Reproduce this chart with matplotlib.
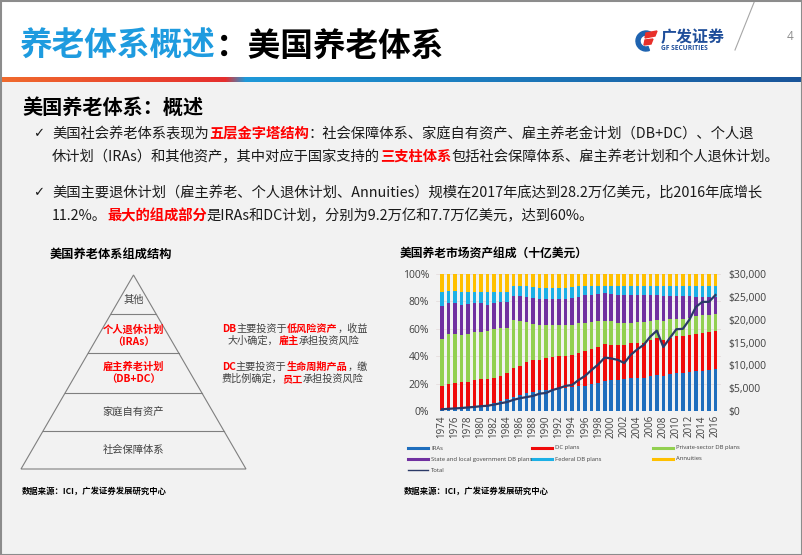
import numpy as np
import matplotlib
matplotlib.use('Agg')
import matplotlib.pyplot as plt
from matplotlib.patches import Rectangle, Polygon, Wedge
from matplotlib.lines import Line2D

CJK = ['Noto Sans CJK SC', 'DejaVu Sans']
LAT = ['Open Sans', 'DejaVu Sans']

# ---- chart data (share of total, %) ----
years = list(range(1974, 2017))
ira = [0.5, 1, 1.5, 2, 2.5, 3, 3.5, 4, 5.5, 7, 8.5, 10.5, 12, 13, 14, 15, 15.5, 16, 16.5, 17, 17.5, 18,
       18.5, 19.5, 20.5, 22, 22.5, 22.5, 23, 24, 24, 24, 25.5, 26.5, 25.5, 27, 27.5, 28, 28.5, 29.5, 29.5, 30, 30.5]
dc = [17.5, 19, 19, 19, 19, 19.5, 19.5, 19, 18.5, 18.5, 19.5, 21, 21, 22.5, 23, 22.5, 23, 23.5, 23.5, 23.5, 23.5, 24.5,
      25.5, 26, 26.5, 27, 26, 25.5, 25.5, 25.5, 25.5, 26, 26.5, 26.5, 26.5, 26.5, 27, 26.5, 27, 27, 27.5, 27.5, 28]
private_db = [34.5, 36, 35.5, 34.5, 35, 35, 35, 35.5, 35.5, 35, 32.5, 35, 32.5, 29.5, 26.5, 25.5, 24, 23, 22.5, 22, 22,
              21.5, 20.5, 19.5, 18.5, 17, 17, 16.5, 15.5, 15, 15.5, 15, 14, 13.5, 13.5, 13.5, 13, 13, 12.5, 13, 13, 12.5, 12]
state_local_db = [24, 22.5, 23, 22, 21.5, 21, 21, 19, 19.5, 19, 19, 17.5, 18.5, 18.5, 19, 19, 19, 19.5, 19.5, 19.5,
                  19.5, 19.5, 20, 20, 20, 20, 20, 20.5, 20.5, 20, 19.5, 20, 19, 18, 18.5, 17, 16.5, 16.5, 16, 13.5, 13, 13, 12.5]
federal_db = [10.5, 9, 8.5, 9, 9, 8.5, 8, 9, 8, 7.5, 7.5, 7.5, 7, 7.5, 8, 8, 8, 8, 8, 8, 8, 7.5, 7, 6.5, 6, 5.5, 6,
              6.5, 7, 7, 7, 6.5, 6.5, 7, 7.5, 7.5, 7.5, 7.5, 7.5, 8.5, 8.5, 8.5, 8.5]
annuities = [13, 12.5, 12.5, 13.5, 13, 13, 13, 13.5, 13, 13, 13, 8.5, 9, 9, 9.5, 10, 10.5, 10, 10, 10, 9.5, 9, 8.5,
             8.5, 8.5, 8.5, 8.5, 8.5, 8.5, 8.5, 8.5, 8.5, 8.5, 8.5, 8.5, 8.5, 8.5, 8.5, 8.5, 8.5, 8.5, 8.5, 8.5]
# total assets, billions of dollars
total = [370, 480, 560, 650, 780, 900, 1050, 1150, 1400, 1700, 1950, 2450, 2800, 3050, 3300, 3800, 3950, 4600,
         5000, 5500, 5700, 6800, 7700, 9000, 10200, 11700, 11500, 11200, 10500, 12300, 13500, 14500, 16300, 17600,
         14000, 16000, 17900, 18000, 20000, 22800, 23900, 23900, 25400]

series_names = ['IRAs', 'DC plans', 'Private-sector DB plans', 'State and local government DB plans',
                'Federal DB plans', 'Annuities']
series_colors = ['#1F6EBD', '#F00A0A', '#92D050', '#7030A0', '#1CB0E6', '#FFC000']
total_color = '#2B3A67'

pct_ticks = [0, 20, 40, 60, 80, 100]
usd_ticks = [0, 5000, 10000, 15000, 20000, 25000, 30000]

RED = '#FF0000'
TXT = '#1A1A1A'
GRAY = '#404040'

fig = plt.figure(figsize=(8.02, 5.55), dpi=100)
fig.patch.set_facecolor('#F2F2F2')

bg = fig.add_axes([0, 0, 1, 1])
bg.set_xlim(0, 802)
bg.set_ylim(555, 0)
bg.axis('off')
renderer = fig.canvas.get_renderer()


def rich(x, y, parts, size, family=CJK):
    # draw a line made of differently styled pieces, one after another
    for s, color, bold, italic in parts:
        t = bg.text(x, y, s, fontsize=size, color=color, family=family,
                    fontweight='bold' if bold else 'normal',
                    fontstyle='italic' if italic else 'normal',
                    va='center', ha='left')
        x += t.get_window_extent(renderer).width
    return x


# header area
bg.add_patch(Rectangle((0, 0), 802, 77, color='white', lw=0))
grad = np.zeros((1, 802, 3))
for i in range(802):
    if i < 225:
        a = i / 225
        c0, c1 = np.array([0.94, 0.42, 0.18]), np.array([0.90, 0.18, 0.18])
    elif i < 245:
        a = (i - 225) / 20
        c0, c1 = np.array([0.90, 0.18, 0.18]), np.array([0.12, 0.60, 0.85])
    else:
        a = (i - 245) / 557
        c0, c1 = np.array([0.12, 0.60, 0.85]), np.array([0.10, 0.33, 0.60])
    grad[0, i] = c0 + (c1 - c0) * a
bg.imshow(grad, extent=[0, 802, 82, 77], aspect='auto', zorder=1)
bg.set_xlim(0, 802)
bg.set_ylim(555, 0)
bg.add_patch(Rectangle((0.5, 0.5), 801, 554, fill=False, ec='#8C8C8C', lw=1.5, zorder=5))
bg.plot([755, 735], [0, 50], color='#A6A6A6', lw=0.8)

rich(20, 46, [('养老体系概述', '#1E9BDF', True, False), ('：美国养老体系', '#000000', True, False)], 23.5)

# logo
bg.add_patch(Wedge((646, 41), 10, 70, 300, width=4, color='#1E63B0', zorder=3))
bg.add_patch(Polygon([[646, 33], [657, 31], [655, 36], [645, 38]], color='#E8302A', zorder=3))
bg.add_patch(Polygon([[645, 40], [653, 39], [651, 44], [644, 45]], color='#E8302A', zorder=3))
bg.text(661, 37, '广发证券', fontsize=11.5, color='#1F4E9A', family=CJK, fontweight='bold', va='center')
bg.text(661, 49, 'GF SECURITIES', fontsize=4.8, color='#1F4E9A', family=LAT, fontweight='bold', va='center')
bg.text(790, 37, '4', fontsize=8.5, color='#8C8C8C', family=LAT, va='center', ha='center')

# section heading and bullets
bg.text(22, 107, '美国养老体系：概述', fontsize=14.5, color='#000000', family=CJK, fontweight='bold', va='center')
BS = 10.3
for yy in (134, 193):
    bg.text(33, yy, '✓', fontsize=9.5, color=TXT, family=['DejaVu Sans'], va='center')
rich(52, 134, [('美国社会养老体系表现为', TXT, False, False), ('五层金字塔结构', RED, True, False),
               ('：社会保障体系、家庭自有资产、雇主养老金计划（DB+DC）、个人退', TXT, False, False)], BS)
rich(52, 157, [('休计划（IRAs）和其他资产，其中对应于国家支持的', TXT, False, False), ('三支柱体系', RED, True, False),
               ('包括社会保障体系、雇主养老计划和个人退休计划。', TXT, False, False)], BS)
rich(52, 193, [('美国主要退休计划（雇主养老、个人退休计划、Annuities）规模在2017年底达到28.2万亿美元，比2016年底增长',
                TXT, False, False)], BS)
rich(52, 216, [('11.2%。', TXT, False, False), ('最大的组成部分', RED, True, False),
               ('是IRAs和DC计划，分别为9.2万亿和7.7万亿美元，达到60%。', TXT, False, False)], BS)

# pyramid
bg.text(50, 254, '美国养老体系组成结构', fontsize=8.8, color='#000000', family=CJK, fontweight='bold', va='center')
apex_x, apex_y, base_y, half = 133.5, 275, 469, 112.5
bg.add_patch(Polygon([[apex_x, apex_y], [apex_x - half, base_y], [apex_x + half, base_y]],
                     fill=False, ec='#7F7F7F', lw=0.8))
for ly in (314, 353, 393, 431):
    w = (ly - apex_y) / (base_y - apex_y) * half
    bg.plot([apex_x - w, apex_x + w], [ly, ly], color='#7F7F7F', lw=0.8)
PS = 7.4
bg.text(apex_x, 300, '其他', fontsize=PS, color=GRAY, family=CJK, ha='center', va='center')
for ty, s in ((330, '个人退休计划'), (342, '（IRAs）'), (367, '雇主养老计划'), (379, '（DB+DC）')):
    bg.text(apex_x, ty, s, fontsize=PS, color=RED, family=CJK, ha='center', va='center',
            fontweight='bold', fontstyle='italic')
bg.text(apex_x, 412, '家庭自有资产', fontsize=PS, color=GRAY, family=CJK, ha='center', va='center')
bg.text(apex_x, 450, '社会保障体系', fontsize=PS, color=GRAY, family=CJK, ha='center', va='center')

NS = 7.3
rich(222, 329, [('DB', RED, True, True), ('主要投资于', GRAY, False, False), ('低风险资产', RED, True, True),
                ('，收益', GRAY, False, False)], NS)
rich(228, 341, [('大小确定，', GRAY, False, False), ('雇主', RED, True, True), ('承担投资风险', GRAY, False, False)], NS)
rich(222, 367, [('DC', RED, True, True), ('主要投资于', GRAY, False, False), ('生命周期产品', RED, True, True),
                ('，缴', GRAY, False, False)], NS)
rich(222, 379, [('费比例确定，', GRAY, False, False), ('员工', RED, True, True), ('承担投资风险', GRAY, False, False)], NS)

# footnotes
for fx in (22, 404):
    bg.text(fx, 491, '数据来源：ICI，广发证券发展研究中心', fontsize=6, color='#000000', family=CJK,
            fontweight='bold', va='center')

# ---- stacked bar chart ----
bg.text(400, 254, '美国养老市场资产组成（十亿美元）', fontsize=8.5, color='#000000', family=CJK,
        fontweight='bold', va='center')

ax = fig.add_axes([436 / 802, (555 - 411) / 555, 285 / 802, 137 / 555])
ax.patch.set_alpha(0)
bottom = np.zeros(len(years))
for vals, col in zip([ira, dc, private_db, state_local_db, federal_db, annuities], series_colors):
    ax.bar(years, vals, 0.55, bottom=bottom, color=col, lw=0, zorder=2)
    bottom += np.array(vals)
ax.set_xlim(1973.1, 2016.85)
ax.set_ylim(0, 100)
ax.set_yticks(pct_ticks)
ax.set_yticklabels([f'{v}%' for v in pct_ticks], family=LAT, fontsize=7.5, color=GRAY)
ax.set_xticks(years[::2])
ax.set_xticklabels([str(y) for y in years[::2]], rotation=90, family=LAT, fontsize=7, color=GRAY)
ax.tick_params(length=0, pad=5)
ax.tick_params(axis='x', pad=3)
ax.grid(axis='y', color='#E3D9D9', lw=0.5, zorder=0)
for s in ax.spines.values():
    s.set_visible(False)

ax2 = ax.twinx()
ax2.plot(years, total, color=total_color, lw=1.6, zorder=3)
ax2.set_ylim(0, 30000)
ax2.set_yticks(usd_ticks)
ax2.set_yticklabels([f'${v:,}' for v in usd_ticks], family=LAT, fontsize=7.5, color=GRAY)
ax2.tick_params(length=0, pad=5)
for s in ax2.spines.values():
    s.set_visible(False)

# legend, laid out like the source (rows of three)
leg_pos = [(408, 448), (532, 448), (653, 448), (408, 459), (532, 459), (653, 459)]
for (lx, ly), name, col in zip(leg_pos, series_names, series_colors):
    bg.add_line(Line2D([lx, lx + 20], [ly, ly], color=col, lw=2.2))
    bg.text(lx + 23, ly, name, fontsize=4.2, color=GRAY, family=LAT, va='center')
bg.add_line(Line2D([408, 428], [470, 470], color=total_color, lw=1.0))
bg.text(431, 470, 'Total', fontsize=4.2, color=GRAY, family=LAT, va='center')

fig.savefig('out.png', dpi=100, facecolor=fig.get_facecolor())
